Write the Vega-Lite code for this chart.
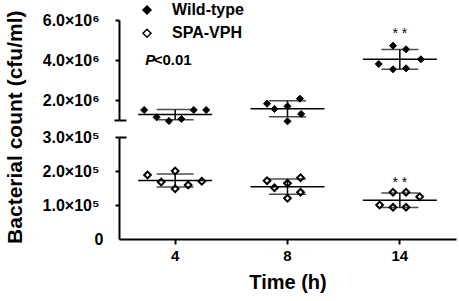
{
  "$schema": "https://vega.github.io/schema/vega-lite/v6.json",
  "padding": {"left": 4, "top": 2, "right": 2, "bottom": 2},
  "background": "white",
  "bounds": "flush",
  "config": {
    "view": {"stroke": null},
    "font": "Liberation Sans",
    "axis": {
      "domainColor": "black", "domainWidth": 2, "tickColor": "black", "tickWidth": 2,
      "labelColor": "black", "titleColor": "black", "labelFont": "Liberation Sans", "titleFont": "Liberation Sans",
      "labelFontWeight": "bold", "titleFontWeight": "bold", "grid": false
    },
    "legend": {"padding": 0}
  },
  "datasets": {
    "wildtype": [
      {"group": "Wild-type", "time": "4", "value": 1500000, "jitter": -2.5},
      {"group": "Wild-type", "time": "4", "value": 1135000, "jitter": -1.5},
      {"group": "Wild-type", "time": "4", "value": 950000, "jitter": -0.5},
      {"group": "Wild-type", "time": "4", "value": 1050000, "jitter": 0.5},
      {"group": "Wild-type", "time": "4", "value": 1500000, "jitter": 1.5},
      {"group": "Wild-type", "time": "4", "value": 1500000, "jitter": 2.5},
      {"group": "Wild-type", "time": "8", "value": 1815000, "jitter": -1.65},
      {"group": "Wild-type", "time": "8", "value": 1550000, "jitter": -1.05},
      {"group": "Wild-type", "time": "8", "value": 1685000, "jitter": 0},
      {"group": "Wild-type", "time": "8", "value": 2065000, "jitter": 1.0},
      {"group": "Wild-type", "time": "8", "value": 1300000, "jitter": 1.1},
      {"group": "Wild-type", "time": "8", "value": 935000, "jitter": 0},
      {"group": "Wild-type", "time": "14", "value": 4715000, "jitter": -0.55},
      {"group": "Wild-type", "time": "14", "value": 4535000, "jitter": 0.5},
      {"group": "Wild-type", "time": "14", "value": 4035000, "jitter": 1.7},
      {"group": "Wild-type", "time": "14", "value": 3800000, "jitter": -1.7},
      {"group": "Wild-type", "time": "14", "value": 3535000, "jitter": -0.55},
      {"group": "Wild-type", "time": "14", "value": 3585000, "jitter": 0.5}
    ],
    "spavph": [
      {"group": "SPA-VPH", "time": "4", "value": 188200, "jitter": -2.23},
      {"group": "SPA-VPH", "time": "4", "value": 167600, "jitter": -1.13},
      {"group": "SPA-VPH", "time": "4", "value": 200000, "jitter": 0},
      {"group": "SPA-VPH", "time": "4", "value": 147600, "jitter": 0},
      {"group": "SPA-VPH", "time": "4", "value": 158800, "jitter": 1.05},
      {"group": "SPA-VPH", "time": "4", "value": 169700, "jitter": 2.15},
      {"group": "SPA-VPH", "time": "8", "value": 171500, "jitter": -1.65},
      {"group": "SPA-VPH", "time": "8", "value": 150900, "jitter": -1.05},
      {"group": "SPA-VPH", "time": "8", "value": 163800, "jitter": 0},
      {"group": "SPA-VPH", "time": "8", "value": 180300, "jitter": 1.05},
      {"group": "SPA-VPH", "time": "8", "value": 137400, "jitter": 1.05},
      {"group": "SPA-VPH", "time": "8", "value": 119700, "jitter": 0},
      {"group": "SPA-VPH", "time": "14", "value": 137400, "jitter": -0.55},
      {"group": "SPA-VPH", "time": "14", "value": 137400, "jitter": 0.5},
      {"group": "SPA-VPH", "time": "14", "value": 124400, "jitter": 1.6},
      {"group": "SPA-VPH", "time": "14", "value": 100000, "jitter": -1.63},
      {"group": "SPA-VPH", "time": "14", "value": 93200, "jitter": -0.55},
      {"group": "SPA-VPH", "time": "14", "value": 93200, "jitter": 0.5}
    ]
  },
  "spacing": 17,
  "resolve": {"scale": {"fill": "independent"}, "legend": {"fill": "independent"}},
  "vconcat": [
    {
      "width": 337,
      "height": 100,
      "data": {"name": "wildtype"},
      "encoding": {
        "x": {"field": "time", "type": "nominal", "sort": ["4", "8", "14"],
              "scale": {"domain": ["4", "8", "14"], "paddingInner": 0, "paddingOuter": 0}, "axis": null}
      },
      "resolve": {"axis": {"y": "independent"}},
      "layer": [
        {
          "mark": {"type": "point", "shape": "diamond", "filled": true, "stroke": "black", "strokeWidth": 1, "size": 50, "opacity": 1},
          "encoding": {
            "xOffset": {"field": "jitter", "type": "quantitative", "scale": {"domain": [-4.53, 4.53], "range": [0, 112.33]}},
            "y": {"field": "value", "type": "quantitative", "scale": {"domain": [1000000, 6000000], "nice": false, "zero": false},
                  "axis": {"title": "Bacterial count (cfu/ml)", "values": [1000000, 2000000, 4000000, 6000000],
                           "labelExpr": "datum.value == 1000000 ? '' : format(datum.value/1000000, '.1f') + '×10⁶'",
                           "labelFontSize": 16, "labelPadding": 16,
                           "tickSize": {"condition": {"test": "datum.value == 1000000", "value": 5}, "value": 4},
                           "titleFontSize": 21, "titleX": -97.6, "titleY": 106.7, "titleBaseline": "alphabetic", "titleAlign": "center"}},
            "fill": {"field": "group", "type": "nominal", "scale": {"domain": ["Wild-type", "SPA-VPH"], "range": ["black", "white"]},
                     "legend": {"orient": "none", "legendX": 20, "legendY": -18, "title": null, "symbolType": "diamond", "symbolSize": 64,
                                "symbolStrokeColor": "black", "symbolStrokeWidth": 1.5, "labelFontSize": 16, "labelFontWeight": "bold",
                                "labelFont": "Liberation Sans", "labelColor": "black", "labelOffset": 17, "rowPadding": 7.3, "symbolOpacity": 1}}
          }
        },
        {
          "mark": {"type": "errorbar", "extent": "stdev", "color": "black", "ticks": {"size": 37, "thickness": 1.5}, "rule": {"strokeWidth": 1.5}},
          "encoding": {"y": {"field": "value", "type": "quantitative", "axis": null}}
        },
        {
          "mark": {"type": "tick", "size": 74, "thickness": 1.5, "color": "black", "opacity": 1},
          "encoding": {"y": {"aggregate": "mean", "field": "value", "type": "quantitative",
                             "axis": {"orient": "left", "offset": -7, "values": [1000000], "tickSize": 7, "labels": false, "domain": false, "title": null}}}
        },
        {
          "data": {"values": [{"time": "4", "value": 4000000, "label": "P"}]},
          "mark": {"type": "text", "align": "left", "baseline": "middle", "dx": -30, "fontSize": 15, "fontWeight": "bold", "fontStyle": "italic", "color": "black"},
          "encoding": {"y": {"field": "value", "type": "quantitative", "axis": null}, "text": {"field": "label"}}
        },
        {
          "data": {"values": [{"time": "4", "value": 4000000, "label": "<0.01"}]},
          "mark": {"type": "text", "align": "left", "baseline": "middle", "dx": -21.5, "fontSize": 15, "fontWeight": "bold", "color": "black"},
          "encoding": {"y": {"field": "value", "type": "quantitative", "axis": null}, "text": {"field": "label"}}
        },
        {
          "data": {"values": [{"time": "14", "value": 5100000, "label": "* *"}]},
          "mark": {"type": "text", "align": "center", "baseline": "alphabetic", "fontSize": 14, "color": "black"},
          "encoding": {"y": {"field": "value", "type": "quantitative", "axis": null}, "text": {"field": "label"}}
        }
      ]
    },
    {
      "width": 337,
      "height": 102,
      "data": {"name": "spavph"},
      "encoding": {
        "x": {"field": "time", "type": "nominal", "sort": ["4", "8", "14"],
              "scale": {"domain": ["4", "8", "14"], "paddingInner": 0, "paddingOuter": 0},
              "axis": {"title": "Time (h)", "labelAngle": 0, "labelFontSize": 15, "titleFontSize": 20, "tickSize": 5, "labelPadding": 4, "titlePadding": 9}}
      },
      "resolve": {"axis": {"y": "independent"}},
      "layer": [
        {
          "mark": {"type": "point", "shape": "diamond", "filled": true, "stroke": "black", "strokeWidth": 2, "size": 45, "opacity": 1},
          "encoding": {
            "xOffset": {"field": "jitter", "type": "quantitative", "scale": {"domain": [-4.53, 4.53], "range": [0, 112.33]}},
            "y": {"field": "value", "type": "quantitative", "scale": {"domain": [0, 300000], "nice": false},
                  "axis": {"title": null, "values": [0, 100000, 200000, 300000],
                           "labelExpr": "datum.value == 0 ? '0' : format(datum.value/100000, '.1f') + '×10⁵'",
                           "labelFontSize": 16, "labelPadding": 16,
                           "tickSize": {"condition": {"test": "datum.value == 0", "value": 0}, "value": 4}}},
            "fill": {"field": "group", "type": "nominal", "scale": {"domain": ["Wild-type", "SPA-VPH"], "range": ["black", "white"]}, "legend": null}
          }
        },
        {
          "mark": {"type": "errorbar", "extent": "stdev", "color": "black", "ticks": {"size": 37, "thickness": 1.5}, "rule": {"strokeWidth": 1.5}},
          "encoding": {"y": {"field": "value", "type": "quantitative", "axis": null}}
        },
        {
          "mark": {"type": "tick", "size": 74, "thickness": 1.5, "color": "black", "opacity": 1},
          "encoding": {"y": {"aggregate": "mean", "field": "value", "type": "quantitative",
                             "axis": {"orient": "left", "offset": -7, "values": [300000], "tickSize": 7, "labels": false, "domain": false, "title": null}}}
        },
        {
          "data": {"values": [{"time": "14", "value": 153000, "label": "* *"}]},
          "mark": {"type": "text", "align": "center", "baseline": "alphabetic", "fontSize": 14, "color": "black"},
          "encoding": {"y": {"field": "value", "type": "quantitative", "axis": null}, "text": {"field": "label"}}
        }
      ]
    }
  ]
}
